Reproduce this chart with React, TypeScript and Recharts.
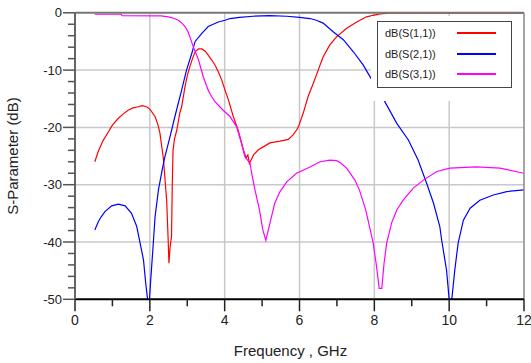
import { LineChart, XAxis, YAxis, Line, Legend, ReferenceLine } from "recharts";

// S(1,1) – reflection
const s11Freq = [0.53, 0.62, 0.75, 0.89, 1.0, 1.16, 1.3, 1.42, 1.55, 1.69, 1.8, 1.91, 2.0, 2.14, 2.22, 2.27, 2.36, 2.45, 2.49, 2.51, 2.54, 2.56, 2.58, 2.6, 2.62, 2.66, 2.72, 2.8, 2.85, 2.94, 3.0, 3.07, 3.14, 3.21, 3.3, 3.39, 3.48, 3.56, 3.65, 3.74, 3.83, 3.92, 4.01, 4.1, 4.23, 4.36, 4.5, 4.57, 4.62, 4.66, 4.72, 4.77, 4.9, 5.03, 5.21, 5.48, 5.7, 5.83, 5.92, 5.97, 6.1, 6.23, 6.37, 6.5, 6.63, 6.81, 6.99, 7.26, 7.53, 7.79, 8.0, 8.15, 8.4, 9, 10, 11, 12];
const s11Db = [-26, -24.2, -22.3, -20.8, -19.6, -18.4, -17.6, -17.0, -16.6, -16.4, -16.2, -16.4, -16.8, -18.1, -19.6, -21, -25.3, -32.7, -39.6, -43.7, -41, -40, -39, -30, -24, -22, -20.5, -17.5, -16.4, -12.9, -11, -9.4, -8, -6.8, -6.3, -6.3, -6.7, -7.4, -8.2, -9.1, -10.3, -11.7, -13.5, -15.2, -18.1, -20.5, -23.9, -25.3, -24.8, -26.3, -25.5, -24.8, -23.9, -23.4, -22.7, -22.4, -22.1, -21.3, -20.5, -19.9, -17.5, -14.6, -12.3, -10, -7.7, -5.6, -4.2, -2.7, -1.6, -0.7, -0.4, -0.2, -0.05, -0.05, -0.05, -0.05, -0.05];

// S(2,1) – transmission
const s21Freq = [0.53, 0.62, 0.7, 0.8, 0.98, 1.16, 1.34, 1.51, 1.65, 1.74, 1.83, 1.89, 1.94, 1.99, 2.03, 2.08, 2.14, 2.23, 2.33, 2.4, 2.54, 2.67, 2.85, 2.98, 3.12, 3.21, 3.39, 3.56, 3.83, 4.01, 4.14, 4.4, 4.76, 5.2, 5.66, 6.0, 6.28, 6.45, 6.63, 6.9, 7.17, 7.44, 7.7, 7.88, 8.08, 8.28, 8.6, 8.91, 9.17, 9.4, 9.58, 9.75, 9.8, 9.93, 10.0, 10.07, 10.15, 10.24, 10.38, 10.56, 10.82, 11.18, 11.54, 12.0];
const s21Db = [-37.9, -36.5, -35.6, -34.7, -33.7, -33.4, -33.7, -35, -37.3, -40.2, -43.1, -47.2, -50, -50, -46, -41.4, -35.6, -30.9, -27.4, -25.2, -21.6, -18.1, -13.5, -10, -7.1, -5, -3.6, -2.4, -1.6, -1.3, -1.0, -0.8, -0.6, -0.5, -0.6, -0.8, -1.0, -1.3, -1.8, -3.3, -4.7, -6.8, -9.1, -11.1, -13.3, -15.5, -19.3, -22.2, -25.7, -29.8, -33.2, -37.3, -39.7, -44.9, -50, -50, -44.9, -40.2, -36.2, -34.1, -32.7, -31.8, -31.2, -30.9];

// S(3,1) – coupling
const s31Freq = [0.53, 1.24, 1.26, 2.3, 2.49, 2.62, 2.76, 2.86, 2.94, 3.02, 3.07, 3.16, 3.3, 3.43, 3.56, 3.65, 3.74, 3.87, 3.96, 4.14, 4.32, 4.45, 4.54, 4.68, 4.72, 4.81, 4.93, 5.02, 5.1, 5.21, 5.34, 5.48, 5.66, 5.92, 6.28, 6.55, 6.81, 6.99, 7.1, 7.26, 7.48, 7.6, 7.77, 7.87, 7.97, 8.06, 8.13, 8.2, 8.26, 8.33, 8.46, 8.6, 8.77, 9.04, 9.31, 9.67, 10.02, 10.73, 11.36, 12];
const s31Db = [-0.25, -0.25, -0.5, -0.55, -0.7, -0.9, -1.3, -1.8, -2.4, -3.3, -4.2, -5.9, -8.2, -11.2, -13.5, -14.6, -15.5, -16.4, -17, -18.1, -19.9, -22.8, -25.1, -26.3, -28, -30.9, -34.4, -37.9, -39.7, -36.7, -33.2, -31.2, -29.5, -28, -26.9, -26, -25.7, -25.8, -26.2, -27.1, -29.2, -30.9, -34.4, -37.3, -40.2, -44.3, -48.1, -48.1, -43.7, -40.2, -36.7, -34.4, -32.7, -30.6, -29.2, -27.7, -27.1, -26.9, -27.1, -28];

const xTicks = [0, 1, 2, 3, 4, 5, 6, 7, 8, 9, 10, 11, 12];
const yTicks = [-50, -48, -46, -44, -42, -40, -38, -36, -34, -32, -30, -28, -26, -24, -22, -20, -18, -16, -14, -12, -10, -8, -6, -4, -2, 0];
const xGrid = [2, 4, 6, 8, 10];
const yGrid = [-10, -20, -30, -40];

const series = [
  { name: "dB(S(1,1))", color: "#ff0000", freq: s11Freq, db: s11Db },
  { name: "dB(S(2,1))", color: "#0000ff", freq: s21Freq, db: s21Db },
  { name: "dB(S(3,1))", color: "#ff00ff", freq: s31Freq, db: s31Db },
];

const toRows = (freq: number[], db: number[]) => freq.map((f, i) => ({ f, db: db[i] }));

const FONT = "Arial, 'Liberation Sans', sans-serif";

function YTick({ x, y, payload }: any) {
  const major = payload.value % 10 === 0;
  return (
    <g>
      <line x1={x - (major ? 12 : 7)} x2={x} y1={y} y2={y} stroke="#555" strokeWidth={1.5} />
      {major && (
        <text x={x - 13} y={y} dy={4.5} textAnchor="end" fontSize={13} fill="#222" fontFamily={FONT}>
          {payload.value}
        </text>
      )}
    </g>
  );
}

function XTick({ x, y, payload }: any) {
  const major = payload.value % 2 === 0;
  return (
    <g>
      <line x1={x} x2={x} y1={y} y2={y + (major ? 12 : 7)} stroke="#222" strokeWidth={1.5} />
      {major && (
        <text x={x} y={y + 26} textAnchor="middle" fontSize={14} fill="#222" fontFamily={FONT}>
          {payload.value}
        </text>
      )}
    </g>
  );
}

function LegendBox() {
  return (
    <div style={{ width: 152, height: 85, background: "#fff", position: "relative" }}>
      <div
        style={{
          position: "absolute",
          left: 6,
          top: 5,
          width: 135,
          height: 67,
          border: "1.5px solid #444",
          boxSizing: "border-box",
          fontFamily: FONT,
          fontSize: 11,
          color: "#222",
        }}
      >
        {series.map((s, i) => (
          <div key={s.name} style={{ position: "absolute", left: 7, top: 4 + i * 20.5, height: 14, lineHeight: "14px" }}>
            <span>{s.name}</span>
            <span
              style={{
                position: "absolute",
                left: 72,
                top: 6,
                width: 39,
                height: 2,
                background: s.color,
              }}
            />
          </div>
        ))}
      </div>
    </div>
  );
}

export default function App() {
  return (
    <div style={{ position: "absolute", left: 0, top: 0, width: 531, height: 363, overflow: "hidden", fontFamily: FONT }}>
      <LineChart width={531} height={363} margin={{ top: 12.8, right: 7, left: 0, bottom: 0 }}>
        <XAxis
          dataKey="f"
          type="number"
          domain={[0, 12]}
          ticks={xTicks}
          interval={0}
          allowDataOverflow
          height={63.7}
          tickSize={0}
          tickMargin={0}
          tickLine={false}
          tick={<XTick />}
          axisLine={{ stroke: "#000", strokeWidth: 2 }}
          label={{ value: "Frequency , GHz", position: "insideBottom", offset: 7, dx: -9, fontSize: 15, fill: "#222" }}
        />
        <YAxis
          dataKey="db"
          type="number"
          domain={[-50, 0]}
          ticks={yTicks}
          interval={0}
          allowDataOverflow
          width={75}
          tickSize={0}
          tickMargin={0}
          tickLine={false}
          tick={<YTick />}
          axisLine={{ stroke: "#666", strokeWidth: 2 }}
          label={{
            value: "S-Parameter (dB)",
            angle: -90,
            position: "insideLeft",
            offset: 13,
            fontSize: 15,
            fill: "#222",
            style: { textAnchor: "middle" },
          }}
        />
        {xGrid.map((v) => (
          <ReferenceLine key={"x" + v} x={v} stroke="#c8c8c8" strokeWidth={1.5} />
        ))}
        {yGrid.map((v) => (
          <ReferenceLine key={"y" + v} y={v} stroke="#c8c8c8" strokeWidth={1.5} />
        ))}
        {series.map((s) => (
          <Line
            key={s.name}
            data={toRows(s.freq, s.db)}
            dataKey="db"
            name={s.name}
            stroke={s.color}
            strokeWidth={1.2}
            dot={false}
            type="linear"
            isAnimationActive={false}
          />
        ))}
        <ReferenceLine y={0} stroke="#777" strokeWidth={2} />
        <ReferenceLine x={12} stroke="#888" strokeWidth={1.5} />
        <Legend
          layout="vertical"
          align="center"
          verticalAlign="middle"
          content={<LegendBox />}
          wrapperStyle={{ position: "absolute", left: 371, top: 16, width: 152, height: 85 }}
        />
      </LineChart>
    </div>
  );
}
